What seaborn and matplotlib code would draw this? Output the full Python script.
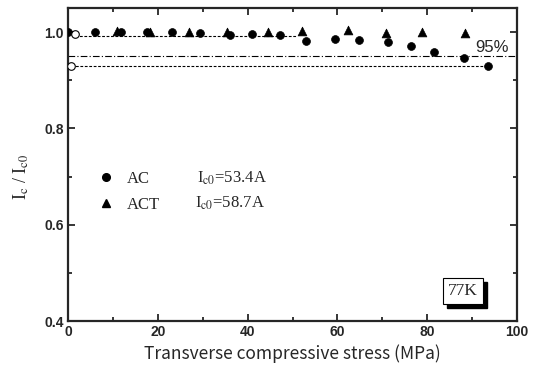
import numpy as np
import pandas as pd
import seaborn as sns
import matplotlib.pyplot as plt
from matplotlib.lines import Line2D
from matplotlib.patches import Rectangle
from matplotlib.transforms import IdentityTransform
from matplotlib.ticker import MultipleLocator

# data
ac_stress = [0, 5.9, 11.8, 17.5, 23.1, 29.5, 36.1, 41.0, 47.2, 52.9, 59.5, 64.9, 71.3, 76.4, 81.5, 88.1, 93.5]
ac_ratio = [1.0, 1.0, 1.0, 1.0, 1.0, 0.999, 0.994, 0.996, 0.993, 0.982, 0.986, 0.983, 0.980, 0.971, 0.959, 0.947, 0.930]
act_stress = [10.8, 18.3, 27.0, 35.3, 44.6, 52.2, 62.4, 70.8, 78.9, 88.5]
act_ratio = [1.002, 1.0, 1.0, 1.0, 1.0, 1.002, 1.004, 0.999, 1.0, 0.999]
open_stress = [1.5, 0.7]
open_ratio = [0.997, 0.930]

# reference lines: level, start, end
upper_dash = (0.992, 1.5, 51.0)
lower_dash = (0.930, 0.7, 92.8)
crit_level = 0.95

x_ticks = [0, 20, 40, 60, 80, 100]
y_ticks = [0.4, 0.6, 0.8, 1.0]

sns.set_style('ticks')
plt.rcParams['font.family'] = ['Liberation Sans', 'DejaVu Sans']
plt.rcParams['mathtext.fontset'] = 'stix'
plt.rcParams['xtick.direction'] = 'in'
plt.rcParams['ytick.direction'] = 'in'

ac = pd.DataFrame({'stress': ac_stress, 'ratio': ac_ratio})
act = pd.DataFrame({'stress': act_stress, 'ratio': act_ratio})
opn = pd.DataFrame({'stress': open_stress, 'ratio': open_ratio})

fig = plt.figure(figsize=(5.36, 3.73), dpi=100)
ax = fig.add_axes([0.1269, 0.1394, 0.8377, 0.8392])

ax.hlines(upper_dash[0], upper_dash[1], upper_dash[2], color='black', lw=0.8, linestyles=(0, (2.5, 1.5)))
ax.hlines(lower_dash[0], lower_dash[1], lower_dash[2], color='black', lw=0.8, linestyles=(0, (2.5, 1.5)))
ax.axhline(crit_level, color='black', lw=0.8, ls=(0, (6, 2, 1, 2)))

sns.scatterplot(data=ac, x='stress', y='ratio', marker='o', color='black', s=32, edgecolor='black', linewidth=0.5, ax=ax, zorder=3)
sns.scatterplot(data=act, x='stress', y='ratio', marker='^', color='black', s=40, edgecolor='black', linewidth=0.5, ax=ax, zorder=3)
sns.scatterplot(data=opn, x='stress', y='ratio', marker='o', color='white', s=30, edgecolor='black', linewidth=0.8, ax=ax, zorder=4)

ax.set_xlim(0, 100)
ax.set_ylim(0.4, 1.05)
ax.set_xticks(x_ticks, [str(t) for t in x_ticks], fontweight='bold', fontsize=10)
ax.set_yticks(y_ticks, ['%.1f' % t for t in y_ticks], fontweight='bold', fontsize=10)
ax.xaxis.set_minor_locator(MultipleLocator(10))
ax.yaxis.set_minor_locator(MultipleLocator(0.1))
ax.tick_params(which='both', top=True, right=True, width=1.3)
ax.tick_params(which='major', length=5, pad=3)
ax.tick_params(which='minor', length=3)
for sp in ax.spines.values():
    sp.set_linewidth(1.6)

ax.set_xlabel('Transverse compressive stress (MPa)', fontsize=12.5,
              family=['Noto Sans CJK JP', 'DejaVu Sans'])
ax.xaxis.labelpad = 4
ax.set_ylabel(r'I$_{\rm c}$ / I$_{\rm c0}$', fontsize=13, family=['Liberation Serif', 'DejaVu Serif'])
ax.yaxis.set_label_coords(-0.082, 0.46)

ax.text(94.4, 0.953, '95%', fontsize=12, ha='center', va='bottom')

# legend
handles = [Line2D([], [], marker='o', color='black', ls='none', markersize=5.5),
           Line2D([], [], marker='^', color='black', ls='none', markersize=6)]
leg = ax.legend(handles, ['AC', 'ACT'], loc='upper left', bbox_to_anchor=(0.033, 0.527),
                frameon=False, handlelength=1.0, handletextpad=0.75, labelspacing=0.57,
                prop={'family': 'Liberation Serif', 'size': 12})
ax.text(28.7, 0.697, r'I$_{\rm c0}$=53.4A', fontsize=12, va='center', family='Liberation Serif')
ax.text(28.3, 0.645, r'I$_{\rm c0}$=58.7A', fontsize=12, va='center', family='Liberation Serif')

# 77K box, shadow drawn as a patch behind it
tag = ax.text(88.0, 0.462, '77K', fontsize=12.5, ha='center', va='center',
              family='Liberation Serif', zorder=6,
              bbox=dict(boxstyle='square,pad=0.3', fc='white', ec='black', lw=0.8))
fig.canvas.draw()
bb = tag.get_bbox_patch().get_window_extent()
ax.add_patch(Rectangle((bb.x0 + 4, bb.y0 - 4), bb.width, bb.height, transform=IdentityTransform(),
                       fc='black', ec='black', zorder=5, clip_on=False))

fig.savefig('out.png', dpi=100)
